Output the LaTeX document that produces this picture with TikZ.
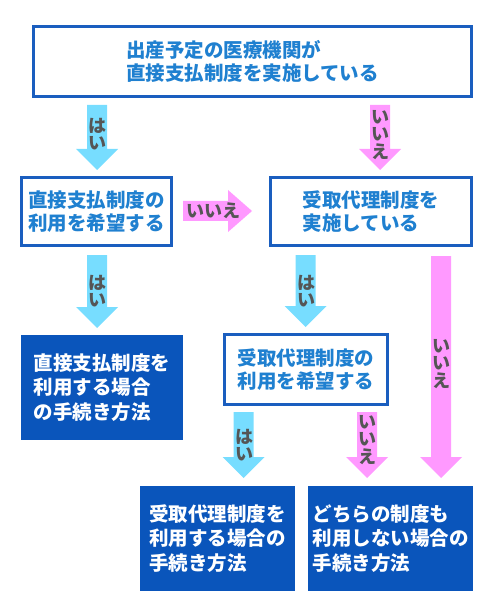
\documentclass[tikz,border=0pt]{standalone}
\usepackage{fontspec}
\newfontfamily\jp{Noto Sans CJK JP}
\usetikzlibrary{calc}

\definecolor{framebl}{HTML}{1A5EBF}
\definecolor{textbl}{HTML}{1F80D0}
\definecolor{darkbl}{HTML}{0A55BB}
\definecolor{yescol}{HTML}{77DDFF}
\definecolor{nocol}{HTML}{FF99FF}
\definecolor{labcol}{HTML}{555555}

% fat block arrows: start, tip, colour
\newcommand{\fatdown}[3]{%
  \fill[#3] ($(#1)+(-10,0)$) -- ($(#1)+(10,0)$) -- ($(#2)+(10,-21)$) -- ($(#2)+(21,-21)$)
    -- (#2) -- ($(#2)+(-21,-21)$) -- ($(#2)+(-10,-21)$) -- cycle;}
\newcommand{\fatright}[3]{%
  \fill[#3] ($(#1)+(0,-10)$) -- ($(#2)+(-24,-10)$) -- ($(#2)+(-24,-21)$) -- (#2)
    -- ($(#2)+(-24,21)$) -- ($(#2)+(-24,10)$) -- ($(#1)+(0,10)$) -- cycle;}

\begin{document}
\begin{tikzpicture}[x=1pt, y=-1pt,
    wbox/.style = {draw=framebl, line width=3pt, fill=white, text=textbl, align=left,
      font=\jp\bfseries\fontsize{19.5}{23}\selectfont, inner sep=0pt},
    dbox/.style = {fill=darkbl, text=white, align=left,
      font=\jp\bfseries\fontsize{19.5}{24.5}\selectfont, inner sep=0pt},
    lab/.style = {text=labcol, align=center, inner sep=0pt,
      font=\jp\bfseries\fontsize{18}{17.5}\selectfont}]
    \useasboundingbox (0,0) rectangle (490,609);

    % boxes
    \node[wbox, minimum width=438pt, minimum height=70pt] (start) at (252.5,61.5) {出産予定の医療機関が\\直接支払制度を実施している};
    \node[wbox, minimum width=150pt, minimum height=68pt] (wishdirect) at (96.5,211.5) {直接支払制度の\\利用を希望する};
    \node[wbox, minimum width=201pt, minimum height=68pt] (proxy) at (371,211.5) {受取代理制度を\\実施している};
    \node[wbox, minimum width=163pt, minimum height=70pt] (wishproxy) at (306,369.5) {受取代理制度の\\利用を希望する};
    \node[dbox, minimum width=162pt, minimum height=105pt] (usedirect) at (102,387.5) {直接支払制度を\\利用する場合\\の手続き方法};
    \node[dbox, minimum width=155pt, minimum height=105pt] (useproxy) at (217.5,538.5) {受取代理制度を\\利用する場合の\\手続き方法};
    \node[dbox, minimum width=165pt, minimum height=105pt] (usenone) at (390.5,538.5) {どちらの制度も\\利用しない場合の\\手続き方法};

    % arrow ends
    \coordinate (a1s) at (97,105); \coordinate (a1e) at (97,170);
    \coordinate (a2s) at (380,105); \coordinate (a2e) at (380,170);
    \coordinate (a3s) at (183,211); \coordinate (a3e) at (252,211);
    \coordinate (a4s) at (97,255); \coordinate (a4e) at (97,328);
    \coordinate (a5s) at (305.5,255); \coordinate (a5e) at (305.5,327);
    \coordinate (a6s) at (441,256); \coordinate (a6e) at (441,478);
    \coordinate (a7s) at (243.5,412); \coordinate (a7e) at (243.5,478);
    \coordinate (a8s) at (367,412); \coordinate (a8e) at (367,478);

    \fatdown{a1s}{a1e}{yescol}
    \fatdown{a2s}{a2e}{nocol}
    \fatright{a3s}{a3e}{nocol}
    \fatdown{a4s}{a4e}{yescol}
    \fatdown{a5s}{a5e}{yescol}
    \fatdown{a6s}{a6e}{nocol}
    \fatdown{a7s}{a7e}{yescol}
    \fatdown{a8s}{a8e}{nocol}

    % labels
    \node[lab] (l1) at (97,134) {は\\い};
    \node[lab] (l2) at (380,135) {い\\い\\え};
    \node[lab] (l3) at (213,211) {いいえ};
    \node[lab] (l4) at (97,291) {は\\い};
    \node[lab] (l5) at (306,291) {は\\い};
    \node[lab] (l6) at (441,364) {い\\い\\え};
    \node[lab] (l7) at (244,445) {は\\い};
    \node[lab] (l8) at (367,440) {い\\い\\え};
\end{tikzpicture}
\end{document}
